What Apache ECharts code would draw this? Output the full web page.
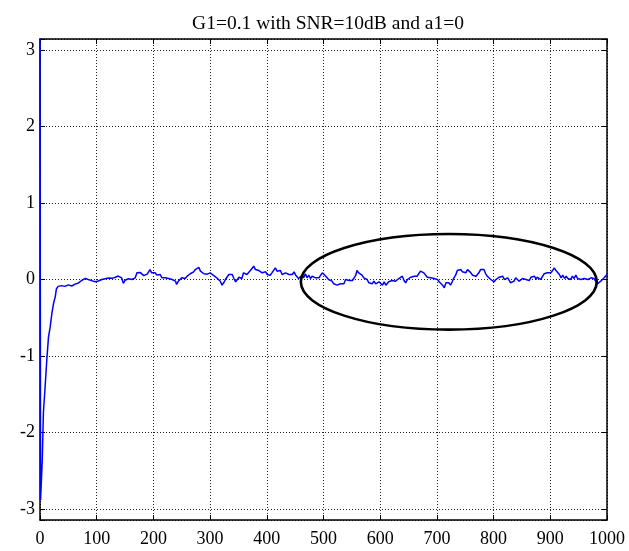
<!DOCTYPE html>
<html>
<head>
<meta charset="utf-8">
<script src="https://cdn.jsdelivr.net/npm/echarts@6/dist/echarts.min.js"></script>
<style>
html,body{margin:0;padding:0;background:#fff;}
#chart{width:629px;height:551px;}
</style>
</head>
<body>
<div id="chart"></div>
<script>
// ---- data ----
const chartTitle = 'G1=0.1 with SNR=10dB and a1=0';
const xTicks = [0,100,200,300,400,500,600,700,800,900,1000];
const yTicks = [-3,-2,-1,0,1,2,3];
const yLimit = 3.1416; // axis runs from -pi to pi

const iterations = [
 0,1,4,6,9,12,15,18,21,24,27,29,32,
 35,38,41,44,47,50,53,56,59,62,65,68,71,74,77,80,82,85,88,91,94,97,100,103,106,109,112,115,118,121,124,127,130,133,135,138,141,144,147,150,153,156,159,162,165,168,
 171,174,177,180,183,186,189,191,194,197,200,203,206,209,212,215,218,221,224,227,230,233,236,239,241,244,247,250,253,256,259,262,265,268,271,274,277,280,283,286,289,292,295,297,300,303,306,309,312,315,318,321,324,327,330,333,336,
 339,342,345,348,351,353,356,359,362,365,368,371,374,377,380,383,386,389,392,395,398,401,403,406,409,412,415,418,421,424,427,430,433,436,439,442,445,448,451,454,456,459,462,465,468,471,474,477,480,483,486,489,492,495,498,501,504,
 506,509,512,515,518,521,524,527,530,533,536,539,542,545,548,551,554,557,559,562,565,568,571,574,577,580,583,586,589,592,595,598,601,604,607,610,612,615,618,621,624,627,630,633,636,639,642,645,648,651,654,657,660,663,665,668,671,
 674,677,680,683,686,689,692,695,698,701,704,707,710,713,716,719,721,724,727,730,733,736,739,742,745,748,751,754,757,760,763,766,769,772,774,777,780,783,786,789,792,795,798,801,804,807,810,813,816,819,822,825,828,830,833,836,839,
 842,845,848,851,854,857,860,863,866,869,872,875,877,880,883,886,889,892,895,898,901,904,907,910,913,916,919,922,925,928,931,933,936,939,942,945,948,951,954,957,960,963,966,969,972,975,977,980,983,986,989,992,995,998,1000
];
const phaseError = [
 3.14,-2.88,-2.36,-1.74,-1.40,-1.05,-0.75,-0.62,-0.44,-0.31,-0.22,-0.12,-0.09,
 -0.10,-0.08,-0.074,-0.09,-0.087,-0.07,-0.065,-0.085,-0.078,-0.06,-0.056,-0.045,-0.03,-0.01,0.0,0.015,0.022,0.0,0.0,-0.015,-0.022,-0.03,-0.03,-0.02,-0.013,0.0,0.0,0.01,0.013,0.02,0.03,0.015,0.022,0.03,0.03,0.045,0.056,0.02,-0.05,-0.01,0.0,0.01,0.013,0.0,0.0,0.022,
 0.087,0.109,0.09,0.065,0.05,0.043,0.07,0.087,0.13,0.087,0.065,0.087,0.06,0.043,0.065,0.022,0.03,0.022,0.02,0.013,0.01,0.0,0.022,-0.022,-0.065,-0.022,0.0,0.022,0.015,0.013,0.04,0.065,0.075,0.087,0.1,0.13,0.143,0.16,0.109,0.087,0.075,0.065,0.07,0.074,0.087,0.065,0.055,0.043,0.02,0.0,-0.022,-0.074,-0.043,0.0,-0.022,0.065,0.056,
 0.065,0.013,-0.03,0.0,0.03,0.043,0.013,0.087,0.109,0.065,0.087,0.117,0.143,0.174,0.13,0.143,0.117,0.13,0.087,0.109,0.1,0.065,0.043,0.056,0.087,0.109,0.152,0.109,0.087,0.117,0.065,0.056,0.087,0.074,0.065,0.074,0.065,0.1,0.056,0.03,0.013,0.03,0.056,0.022,0.074,0.022,0.056,0.013,0.043,0.065,0.022,0.043,0.022,0.056,0.087,0.065,0.043,
 0.022,0.0,0.013,-0.022,-0.056,-0.03,-0.074,-0.087,-0.056,-0.043,-0.056,0.0,0.013,-0.013,0.013,-0.013,0.022,0.056,0.117,0.087,0.074,0.056,0.022,0.03,0.0,-0.043,-0.03,-0.056,-0.022,-0.056,-0.065,-0.03,-0.056,-0.074,-0.03,-0.074,-0.056,-0.03,-0.043,-0.013,-0.03,-0.022,0.0,0.013,0.03,0.043,-0.013,-0.043,0.0,0.013,0.03,0.022,0.043,0.065,0.043,0.065,0.109,
 0.13,0.087,0.065,0.03,0.056,0.022,0.043,0.013,0.03,0.0,-0.03,-0.056,-0.074,-0.108,-0.043,-0.065,-0.043,-0.074,-0.03,0.022,0.056,0.117,0.109,0.13,0.1,0.117,0.087,0.13,0.143,0.087,0.056,0.074,0.043,0.065,0.087,0.13,0.152,0.13,0.074,0.043,0.022,0.0,-0.013,-0.03,0.0,0.013,0.03,0.022,0.043,0.0,-0.013,0.022,0.013,-0.043,-0.065,-0.022,0.022,
 0.043,-0.022,-0.043,0.013,0.03,0.0,0.022,-0.013,0.03,0.013,0.043,0.0,0.03,0.056,0.0,0.022,0.074,0.056,0.087,0.109,0.087,0.117,0.152,0.117,0.13,0.065,0.022,0.056,0.013,0.043,0.013,0.03,0.0,0.043,0.013,0.056,0.013,0.022,0.0,0.022,0.013,0.03,0.0,0.013,0.022,0.0,0.013,-0.022,-0.056,-0.043,-0.022,-0.013,0.022,0.043,0.065
];
// highlighted region (ellipse annotation): centre x, centre y, half width, half height in data units
const ellipseCenterX = 721;
const ellipseCenterY = -0.03;
const ellipseHalfX = 261;
const ellipseHalfY = 0.625;

// ---- chart ----
const seriesData = iterations.map((x, i) => [x, phaseError[i]]);
const font = 'Liberation Serif, Times New Roman, serif';
const gridLine = {show: true, lineStyle: {color: '#222', width: 1, type: [1, 2]}};
const boxLine = {show: true, onZero: false, lineStyle: {color: '#000', width: 1.5}};
const tick = {show: true, inside: true, length: 5, lineStyle: {color: '#000', width: 1}};

const chart = echarts.init(document.getElementById('chart'), null, {renderer: 'canvas'});
chart.setOption({
  animation: false,
  backgroundColor: '#fff',
  title: {
    text: chartTitle,
    left: 323, top: 9, textAlign: 'center',
    textStyle: {fontFamily: font, fontSize: 19.5, fontWeight: 'normal', color: '#000'}
  },
  grid: {left: 40, right: 22, top: 39, bottom: 31, containLabel: false},
  xAxis: [{
    type: 'value', min: xTicks[0], max: xTicks[xTicks.length - 1], interval: xTicks[1] - xTicks[0],
    position: 'bottom', axisLine: boxLine, axisTick: tick, splitLine: gridLine,
    axisLabel: {fontFamily: font, fontSize: 18, color: '#000', margin: 10, formatter: v => String(v)}
  }, {
    type: 'value', min: xTicks[0], max: xTicks[xTicks.length - 1], interval: xTicks[1] - xTicks[0],
    position: 'top', axisLine: boxLine, axisTick: tick, splitLine: {show: false}, axisLabel: {show: false}
  }],
  yAxis: [{
    type: 'value', min: -yLimit, max: yLimit, splitNumber: 6,
    axisLine: boxLine, axisTick: tick, splitLine: gridLine,
    axisLabel: {fontFamily: font, fontSize: 18, color: '#000', margin: 5,
      formatter: v => (yTicks.indexOf(Math.round(v)) >= 0 && Math.abs(v - Math.round(v)) < 1e-6) ? String(Math.round(v)) : ''}
  }, {
    type: 'value', min: -yLimit, max: yLimit, splitNumber: 6, position: 'right',
    axisLine: boxLine, axisTick: tick, splitLine: {show: false}, axisLabel: {show: false}
  }],
  series: [{
    type: 'line', data: seriesData, xAxisIndex: 0, yAxisIndex: 0,
    showSymbol: false, symbol: 'none', clip: true,
    lineStyle: {color: '#0000ff', width: 1.5}, z: 5
  }, {
    type: 'custom', xAxisIndex: 0, yAxisIndex: 0, silent: true, z: 6,
    data: [[ellipseCenterX, ellipseCenterY, ellipseHalfX, ellipseHalfY]],
    renderItem: function (params, api) {
      const c = api.coord([api.value(0), api.value(1)]);
      const e = api.coord([api.value(0) + api.value(2), api.value(1) + api.value(3)]);
      return {
        type: 'ellipse',
        shape: {cx: c[0], cy: c[1], rx: Math.abs(e[0] - c[0]), ry: Math.abs(e[1] - c[1])},
        style: {fill: null, stroke: '#000', lineWidth: 2.6}
      };
    }
  }]
});
</script>
</body>
</html>
